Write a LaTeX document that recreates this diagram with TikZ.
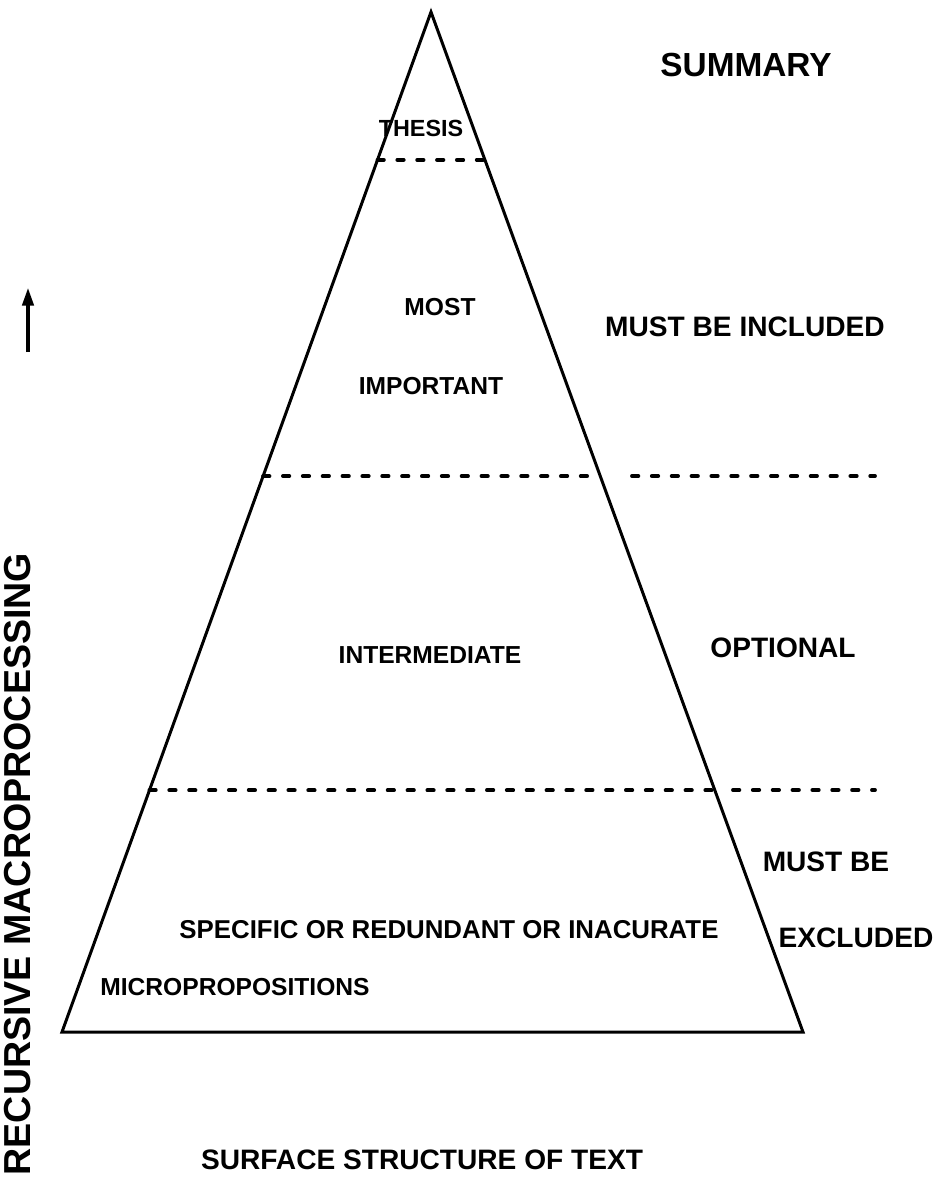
\documentclass[tikz,border=0pt]{standalone}
\usepackage{fontspec}
\setmainfont{Liberation Sans}
\usepackage{tikz}
\usetikzlibrary{calc,arrows.meta}

\begin{document}
\begin{tikzpicture}[x=.02cm,y=-.02cm,>={Triangle[length=10pt,width=6.5pt]},
  lbl/.style={font=\bfseries\fontsize{14}{16}\selectfont,inner sep=0pt},
  side/.style={font=\bfseries\fontsize{16}{18}\selectfont,inner sep=0pt},
  cut/.style={line width=2.2pt,line cap=round,dash pattern=on 3.6pt off 7.7pt}]
\useasboundingbox (0,0) rectangle (936,1187);
% pyramid
\coordinate (top) at (431,12);
\coordinate (bl) at (62,1032);
\coordinate (br) at (803,1032);
\draw[line width=1.7pt,line join=miter] (top)--(bl)--(br)--cycle;
% level cuts
\foreach \t/\n in {.145/a,.455/b,.763/c} {
  \coordinate (l\n) at ($(top)!\t!(bl)$);
  \coordinate (r\n) at ($(top)!\t!(br)$);
  \draw[cut] (l\n)--(r\n);}
\coordinate (ob1) at (632,476); \coordinate (ob2) at (875,476);
\coordinate (oc1) at (733,790); \coordinate (oc2) at (875,790);
\draw[cut] (ob1)--(ob2);
\draw[cut] (oc1)--(oc2);
% labels inside
\node[lbl,font=\bfseries\fontsize{13.3}{15}\selectfont] (thesis) at (421,128) {THESIS};
\node[lbl] (most) at (440,307) {MOST};
\node[lbl] (imp) at (431,386) {IMPORTANT};
\node[lbl] (inter) at (430,655) {INTERMEDIATE};
\node[lbl,font=\bfseries\fontsize{14.7}{16}\selectfont] (spec) at (449,930) {SPECIFIC OR REDUNDANT OR INACURATE};
\node[lbl] (micro) at (235,987) {MICROPROPOSITIONS};
% labels outside
\node[side,font=\bfseries\fontsize{19}{21}\selectfont] (summ) at (746,65) {SUMMARY};
\node[side] (incl) at (745,327) {MUST BE INCLUDED};
\node[side] (opt) at (783,648) {OPTIONAL};
\node[side] (must) at (826,862) {MUST BE};
\node[side] (excl) at (856,938) {EXCLUDED};
\node[side] (surf) at (422,1160) {SURFACE STRUCTURE OF TEXT};
\node[side,font=\bfseries\fontsize{21.4}{23}\selectfont,rotate=90] (rec) at (18,864) {RECURSIVE MACROPROCESSING};
% direction
\coordinate (ar1) at (28,352); \coordinate (ar2) at (28,288);
\draw[->,line width=1.8pt] (ar1)--(ar2);
\end{tikzpicture}
\end{document}
